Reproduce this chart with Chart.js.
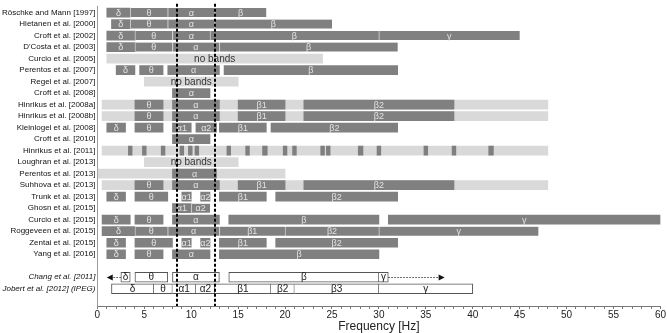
<!DOCTYPE html>
<html>
<head>
<meta charset="utf-8">
<script src="https://cdn.jsdelivr.net/npm/chart.js@4.4.0/dist/chart.umd.min.js"></script>
<style>
  html, body { margin: 0; padding: 0; background: #fff; }
  canvas { display: block; }
</style>
</head>
<body>
<canvas id="bands" width="667" height="333"></canvas>
<script>
const FONT = "'Liberation Sans', Arial, sans-serif";

// Studies, top to bottom (blank rows keep the spacing of the original figure)
const studies = [
  'Röschke and Mann [1997]', 'Hietanen et al. [2000]', 'Croft et al. [2002]', "D'Costa et al. [2003]",
  'Curcio et al. [2005]', 'Perentos et al. [2007]', 'Regel et al. [2007]', 'Croft et al. [2008]',
  'Hinrikus et al. [2008a]', 'Hinrikus et al. [2008b]', 'Kleinlogel et al. [2008]', 'Croft et al. [2010]',
  'Hinrikus et al. [2011]', 'Loughran et al. [2013]', 'Perentos et al. [2013]', 'Suhhova et al. [2013]',
  'Trunk et al. [2013]', 'Ghosn et al. [2015]', 'Curcio et al. [2015]', 'Roggeveen et al. [2015]',
  'Zentai et al. [2015]', 'Yang et al. [2016]', '', 'Chang et al. [2011]', 'Jobert et al. [2012] (IPEG)', ''
];
const italicRows = [23, 24];

// Analysed bands: [row, from Hz, to Hz, label]
const darkBands = [
  [0, 1, 3.5, 'δ'], [0, 3.5, 7.5, 'θ'], [0, 7.5, 12.5, 'α'], [0, 12.5, 18, 'β'],
  [1, 1.5, 3.5, 'δ'], [1, 3.5, 7.5, 'θ'], [1, 7.5, 12.5, 'α'], [1, 12.5, 25, 'β'],
  [2, 1, 4, 'δ'], [2, 4, 8, 'θ'], [2, 8, 12, 'α'], [2, 12, 30, 'β'], [2, 30, 45, 'γ'],
  [3, 1, 4, 'δ'], [3, 4, 8, 'θ'], [3, 8, 13, 'α'], [3, 13, 32, 'β'],
  [5, 2, 4, 'δ'], [5, 4.5, 7, 'θ'], [5, 7.5, 13, 'α'], [5, 13.5, 32, 'β'],
  [7, 8, 12, 'α'],
  [8, 4, 7, 'θ'], [8, 8, 13, 'α'], [8, 15, 20, 'β1'], [8, 22, 38, 'β2'],
  [9, 4, 7, 'θ'], [9, 8, 13, 'α'], [9, 15, 20, 'β1'], [9, 22, 38, 'β2'],
  [10, 1, 3, 'δ'], [10, 4, 7, 'θ'], [10, 8, 10, 'α1'], [10, 10.5, 12.7, 'α2'], [10, 13, 18, 'β1'], [10, 18.5, 32, 'β2'],
  [11, 8, 12, 'α'],
  [14, 8, 12.7, 'α'],
  [15, 4, 7, 'θ'], [15, 8, 13, 'α'], [15, 15, 20, 'β1'], [15, 22, 38, 'β2'],
  [16, 1, 3, 'δ'], [16, 4, 7.5, 'θ'], [16, 9, 10, 'α1'], [16, 11, 12, 'α2'], [16, 13, 18, 'β1'], [16, 19, 32, 'β2'],
  [17, 8, 10, 'α1'], [17, 10, 12, 'α2'],
  [18, 0.5, 3.5, 'δ'], [18, 4, 7, 'θ'], [18, 8, 13, 'α'], [18, 14, 30, 'β'], [18, 31, 60, 'γ'],
  [19, 0.5, 4, 'δ'], [19, 4, 7.5, 'θ'], [19, 7.5, 13, 'α'], [19, 13, 20, 'β1'], [19, 20, 30, 'β2'], [19, 30, 47, 'γ'],
  [20, 1, 3, 'δ'], [20, 4, 8, 'θ'], [20, 9, 10, 'α1'], [20, 11, 12, 'α2'], [20, 13, 18, 'β1'], [20, 19, 32, 'β2'],
  [21, 1, 3, 'δ'], [21, 4, 7, 'θ'], [21, 8, 12, 'α'], [21, 13, 30, 'β']
];

// Recorded range without band split: [row, from Hz, to Hz, label]
const lightRanges = [
  [4, 1, 24, 'no bands'], [6, 5, 15, 'no bands'],
  [8, 0.5, 48, ''], [9, 0.5, 48, ''], [12, 0.5, 48, ''],
  [13, 5, 15, 'no bands'], [14, 0, 20, ''], [15, 0.5, 48, '']
];

// Single frequencies of Hinrikus et al. [2011]: [from Hz, to Hz]
const hinrikusRow = 12;
const hinrikusPeaks = [
  [3.3, 3.7], [4.8, 5.2], [6.8, 7.2], [8.8, 9.2], [9.7, 10.1], [10.4, 10.8],
  [13.8, 14.2], [15.8, 16.2], [17.6, 18.1], [19.8, 20.2], [20.8, 21.2],
  [23.8, 24.2], [24.4, 24.8], [27.8, 28.3], [29.8, 30.2], [34.8, 35.2],
  [37.8, 38.2], [41.7, 42.2]
];

// Reference band definitions: [row, from Hz, to Hz, label]
const outlineBands = [
  [23, 2.5, 3.5, 'δ'], [23, 4, 7.5, 'θ'], [23, 8, 13, 'α'], [23, 14, 30, 'β'], [23, 30, 31, 'γ'],
  [24, 1.5, 6, 'δ'], [24, 6, 8, 'θ'], [24, 8, 10.5, 'α1'], [24, 10.5, 12.5, 'α2'],
  [24, 12.5, 18.5, 'β1'], [24, 18.5, 21, 'β2'], [24, 21, 30, 'β3'], [24, 30, 40, 'γ']
];

// Open-ended Chang et al. bands: [from Hz, arrow tip Hz]
const changRow = 23;
const changArrows = [[2.5, 1], [31, 37]];

// Alpha band limits (dashed lines)
const alphaLimits = [8.5, 12.5];

function toBars(list) {
  return list.map(([row, from, to, t]) => ({
    y: studies[row],
    x: [from, to],
    t: t,
    joined: list.some(b => b[0] === row && b[2] === from)
  }));
}

const bandText = {
  id: 'bandText',
  afterDatasetsDraw(chart) {
    const { ctx, chartArea } = chart;
    const xs = chart.scales.x;
    const ys = chart.scales.y;
    ctx.save();
    ctx.textAlign = 'center';
    ctx.textBaseline = 'middle';
    chart.data.datasets.forEach((ds, i) => {
      const meta = chart.getDatasetMeta(i);
      meta.data.forEach((bar, j) => {
        const t = ds.data[j].t;
        if (!t) return;
        const p = bar.getProps(['x', 'base', 'y'], true);
        ctx.fillStyle = ds.textColor;
        ctx.font = ds.textSize + 'px ' + FONT;
        ctx.fillText(t, (p.x + p.base) / 2, p.y + 0.5);
      });
    });

    // dashed alpha limits
    ctx.strokeStyle = '#000';
    ctx.lineWidth = 2;
    ctx.setLineDash([3, 2]);
    alphaLimits.forEach(f => {
      const px = Math.round(xs.getPixelForValue(f));
      ctx.beginPath();
      ctx.moveTo(px, chartArea.top - 3);
      ctx.lineTo(px, chartArea.bottom);
      ctx.stroke();
    });

    // dotted arrows for Chang et al.
    const cy = Math.round(ys.getPixelForValue(changRow)) + 0.5;
    changArrows.forEach(([from, to]) => {
      const x0 = xs.getPixelForValue(from);
      const x1 = xs.getPixelForValue(to);
      const dir = Math.sign(x1 - x0);
      ctx.setLineDash([1.5, 1.5]);
      ctx.lineWidth = 1;
      ctx.strokeStyle = '#444';
      ctx.beginPath();
      ctx.moveTo(x0, cy);
      ctx.lineTo(x1 - dir * 5, cy);
      ctx.stroke();
      ctx.setLineDash([]);
      ctx.fillStyle = '#111';
      ctx.beginPath();
      ctx.moveTo(x1, cy);
      ctx.lineTo(x1 - dir * 6, cy - 3);
      ctx.lineTo(x1 - dir * 6, cy + 3);
      ctx.closePath();
      ctx.fill();
    });
    ctx.restore();
  }
};

new Chart(document.getElementById('bands'), {
  type: 'bar',
  data: {
    labels: studies,
    datasets: [
      {
        data: toBars(lightRanges),
        backgroundColor: '#d9d9d9',
        barThickness: 9,
        grouped: false,
        order: 3,
        textColor: '#333',
        textSize: 10
      },
      {
        data: hinrikusPeaks.map(([from, to]) => ({ y: studies[hinrikusRow], x: [from, to] })),
        backgroundColor: '#7f7f7f',
        barThickness: 9,
        grouped: false,
        order: 2
      },
      {
        data: toBars(darkBands),
        backgroundColor: '#808080',
        borderColor: '#cdcdcd',
        borderSkipped: false,
        borderWidth: c => (c.raw && c.raw.joined) ? { top: 0, right: 0, bottom: 0, left: 1 } : 0,
        barThickness: 9,
        grouped: false,
        order: 2,
        textColor: '#e2e2e2',
        textSize: 9
      },
      {
        data: toBars(outlineBands),
        backgroundColor: '#fff',
        borderColor: '#555',
        borderSkipped: false,
        borderWidth: c => ({ top: 1, right: 1, bottom: 1, left: (c.raw && c.raw.joined) ? 0 : 1 }),
        barThickness: 10,
        grouped: false,
        order: 1,
        textColor: '#222',
        textSize: 10
      }
    ]
  },
  options: {
    indexAxis: 'y',
    responsive: false,
    animation: false,
    devicePixelRatio: 1,
    layout: { padding: { top: 3, right: 6, left: 0, bottom: 0 } },
    plugins: { legend: { display: false }, tooltip: { enabled: false } },
    scales: {
      x: {
        type: 'linear',
        min: 0,
        max: 60,
        ticks: {
          stepSize: 1,
          autoSkip: false,
          maxRotation: 0,
          padding: 1,
          color: '#222',
          font: { family: FONT, size: 10, lineHeight: 1 },
          callback: v => (v % 5 === 0 ? v : '')
        },
        grid: { drawOnChartArea: false, tickLength: 3, tickColor: '#777' },
        border: { color: '#777' },
        title: {
          display: true,
          text: 'Frequency [Hz]',
          color: '#222',
          padding: { top: 0, bottom: 0 },
          font: { family: FONT, size: 12, lineHeight: 1 }
        }
      },
      y: {
        type: 'category',
        ticks: {
          autoSkip: false,
          padding: 2,
          color: '#111',
          font: c => ({
            family: FONT,
            size: 8,
            style: italicRows.includes(c.index) ? 'italic' : 'normal'
          })
        },
        grid: { display: false, drawTicks: false },
        border: { color: '#999' }
      }
    }
  },
  plugins: [bandText]
});
</script>
</body>
</html>
